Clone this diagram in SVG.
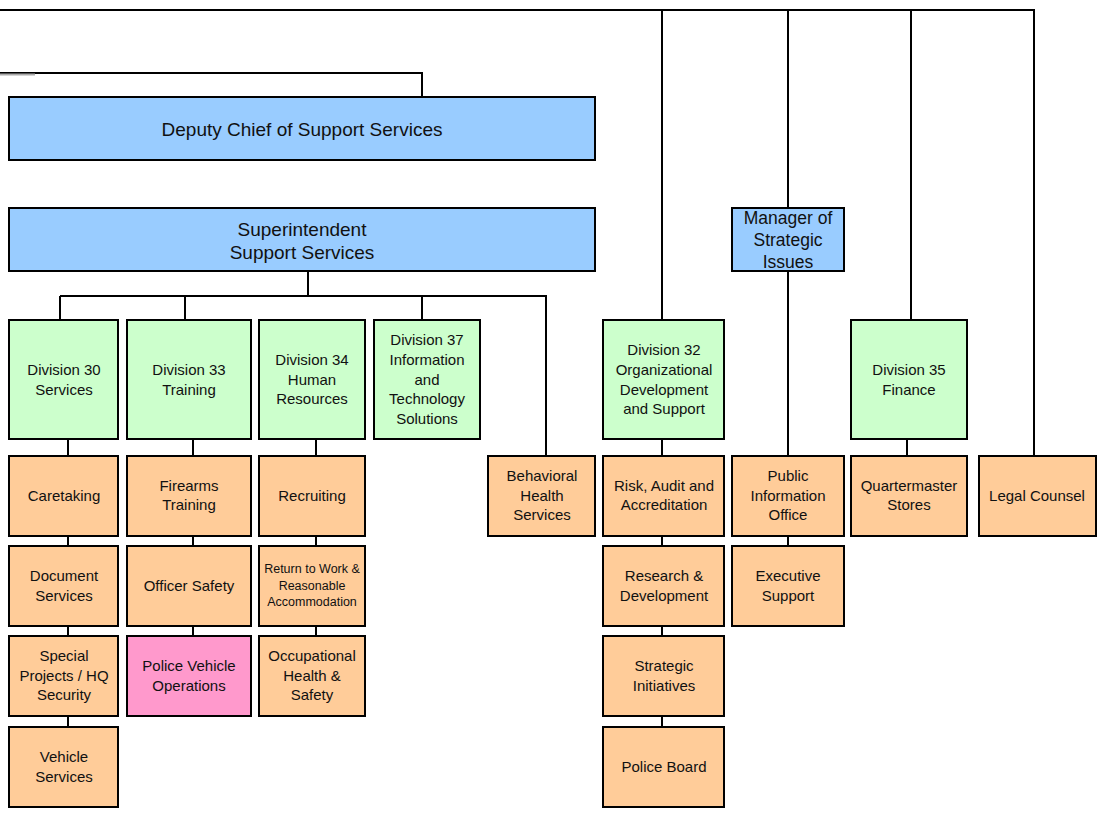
<svg xmlns="http://www.w3.org/2000/svg" width="1099" height="817" viewBox="0 0 1099 817">
<style>
.box{stroke:#000;stroke-width:2}
.blue{fill:#99ccff}
.green{fill:#ccffcc}
.orange{fill:#ffcc99}
.pink{fill:#ff99cc}
text{font-family:"Liberation Sans",Arial,Helvetica,sans-serif;fill:#111;text-anchor:middle;font-size:15px}
.big{font-size:19px}
.mid{font-size:17.5px}
.small{font-size:12.5px}
#connectors path{fill:none;stroke:#000;stroke-width:2}
</style>
<rect x="0" y="0" width="1099" height="817" fill="#fff"/>
<g id="connectors">
<path d="M0 10H1034V456"/>
<path d="M662 10V320M788 10V208M911 10V320"/>
<path d="M0 73H422V97"/>
<path d="M0 74.5H35" style="stroke:#aaa;stroke-width:2"/>
<path d="M308 272V296M60 296H546V456M60 296V320M185 296V320M422 296V320"/>
<path d="M68 439V456M68 536V546M68 626V636M68 716V727"/>
<path d="M193 439V456M193 536V546M193 626V636"/>
<path d="M316 439V456M316 536V546M316 626V636"/>
<path d="M662 439V456M662 536V546M662 626V636M662 716V727"/>
<path d="M788 271V456M788 536V546"/>
<path d="M907 439V456"/>
</g>
<g id="deputy"><rect class="box blue" x="9" y="97" width="586" height="63"/><text class="big" x="302" y="135.5">Deputy Chief of Support Services</text></g>
<g id="superintendent"><rect class="box blue" x="9" y="208" width="586" height="63"/><text class="big"><tspan x="302" y="235.5">Superintendent</tspan><tspan x="302" y="258.5">Support Services</tspan></text></g>
<g id="manager"><rect class="box blue" x="732" y="208" width="112" height="63"/><text class="mid"><tspan x="788" y="224">Manager of</tspan><tspan x="788" y="246">Strategic</tspan><tspan x="788" y="268">Issues</tspan></text></g>
<g id="div30"><rect class="box green" x="9" y="320" width="109" height="119"/><text><tspan x="64" y="375">Division 30</tspan><tspan x="64" y="395">Services</tspan></text></g>
<g id="div33"><rect class="box green" x="127" y="320" width="124" height="119"/><text><tspan x="189" y="375">Division 33</tspan><tspan x="189" y="395">Training</tspan></text></g>
<g id="div34"><rect class="box green" x="259" y="320" width="106" height="119"/><text><tspan x="312" y="365">Division 34</tspan><tspan x="312" y="385">Human</tspan><tspan x="312" y="404">Resources</tspan></text></g>
<g id="div37"><rect class="box green" x="374" y="320" width="106" height="119"/><text><tspan x="427" y="345">Division 37</tspan><tspan x="427" y="365">Information</tspan><tspan x="427" y="385">and</tspan><tspan x="427" y="404">Technology</tspan><tspan x="427" y="424">Solutions</tspan></text></g>
<g id="div32"><rect class="box green" x="603" y="320" width="121" height="119"/><text><tspan x="664" y="355">Division 32</tspan><tspan x="664" y="375">Organizational</tspan><tspan x="664" y="395">Development</tspan><tspan x="664" y="414">and Support</tspan></text></g>
<g id="div35"><rect class="box green" x="851" y="320" width="116" height="119"/><text><tspan x="909" y="375">Division 35</tspan><tspan x="909" y="395">Finance</tspan></text></g>
<g id="caretaking"><rect class="box orange" x="9" y="456" width="109" height="80"/><text x="64" y="501">Caretaking</text></g>
<g id="firearms"><rect class="box orange" x="127" y="456" width="124" height="80"/><text><tspan x="189" y="491">Firearms</tspan><tspan x="189" y="510">Training</tspan></text></g>
<g id="recruiting"><rect class="box orange" x="259" y="456" width="106" height="80"/><text x="312" y="501">Recruiting</text></g>
<g id="behavioral"><rect class="box orange" x="488" y="456" width="107" height="80"/><text><tspan x="542" y="481">Behavioral</tspan><tspan x="542" y="501">Health</tspan><tspan x="542" y="520">Services</tspan></text></g>
<g id="risk"><rect class="box orange" x="603" y="456" width="121" height="80"/><text><tspan x="664" y="491">Risk, Audit and</tspan><tspan x="664" y="510">Accreditation</tspan></text></g>
<g id="pio"><rect class="box orange" x="732" y="456" width="112" height="80"/><text><tspan x="788" y="481">Public</tspan><tspan x="788" y="501">Information</tspan><tspan x="788" y="520">Office</tspan></text></g>
<g id="quartermaster"><rect class="box orange" x="851" y="456" width="116" height="80"/><text><tspan x="909" y="491">Quartermaster</tspan><tspan x="909" y="510">Stores</tspan></text></g>
<g id="legal"><rect class="box orange" x="979" y="456" width="117" height="80"/><text x="1037" y="501">Legal Counsel</text></g>
<g id="document"><rect class="box orange" x="9" y="546" width="109" height="80"/><text><tspan x="64" y="581">Document</tspan><tspan x="64" y="601">Services</tspan></text></g>
<g id="officer"><rect class="box orange" x="127" y="546" width="124" height="80"/><text x="189" y="591">Officer Safety</text></g>
<g id="returnwork"><rect class="box orange" x="259" y="546" width="106" height="80"/><text class="small"><tspan x="312" y="572.5">Return to Work &amp;</tspan><tspan x="312" y="589.5">Reasonable</tspan><tspan x="312" y="606">Accommodation</tspan></text></g>
<g id="research"><rect class="box orange" x="603" y="546" width="121" height="80"/><text><tspan x="664" y="581">Research &amp;</tspan><tspan x="664" y="601">Development</tspan></text></g>
<g id="executive"><rect class="box orange" x="732" y="546" width="112" height="80"/><text><tspan x="788" y="581">Executive</tspan><tspan x="788" y="601">Support</tspan></text></g>
<g id="special"><rect class="box orange" x="9" y="636" width="109" height="80"/><text><tspan x="64" y="661">Special</tspan><tspan x="64" y="681">Projects / HQ</tspan><tspan x="64" y="700">Security</tspan></text></g>
<g id="pvo"><rect class="box pink" x="127" y="636" width="124" height="80"/><text><tspan x="189" y="671">Police Vehicle</tspan><tspan x="189" y="691">Operations</tspan></text></g>
<g id="occupational"><rect class="box orange" x="259" y="636" width="106" height="80"/><text><tspan x="312" y="661">Occupational</tspan><tspan x="312" y="681">Health &amp;</tspan><tspan x="312" y="700">Safety</tspan></text></g>
<g id="strategic"><rect class="box orange" x="603" y="636" width="121" height="80"/><text><tspan x="664" y="671">Strategic</tspan><tspan x="664" y="691">Initiatives</tspan></text></g>
<g id="vehicle"><rect class="box orange" x="9" y="727" width="109" height="80"/><text><tspan x="64" y="762">Vehicle</tspan><tspan x="64" y="782">Services</tspan></text></g>
<g id="policeboard"><rect class="box orange" x="603" y="727" width="121" height="80"/><text x="664" y="772">Police Board</text></g>
</svg>
